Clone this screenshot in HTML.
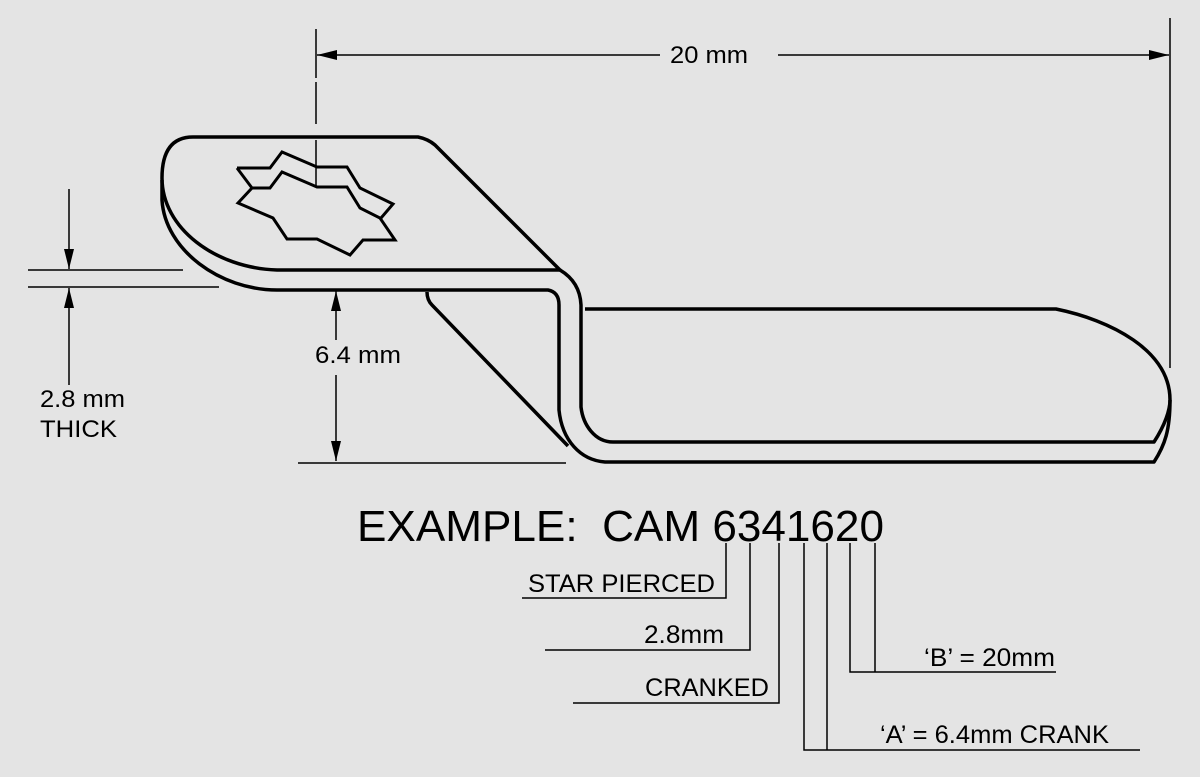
<!DOCTYPE html>
<html><head><meta charset="utf-8"><style>
html,body{margin:0;padding:0;background:#e4e4e4;}
svg{display:block;}
text{font-family:"Liberation Sans",Arial,sans-serif;fill:#000;}
</style></head><body>
<svg width="1200" height="777" viewBox="0 0 1200 777" xmlns="http://www.w3.org/2000/svg">
<rect width="1200" height="777" fill="#e4e4e4"/>
<defs>
<marker id="av" markerWidth="20" markerHeight="10" refX="20" refY="5" orient="auto" markerUnits="userSpaceOnUse"><path d="M0,0 L20,5 L0,10 Z" fill="#000"/></marker></defs>

<g stroke="#000" stroke-width="1.5" fill="none">
<line x1="316" y1="29" x2="316" y2="78"/>
<line x1="316" y1="82" x2="316" y2="124"/>
<line x1="316" y1="140" x2="316" y2="212"/>
<line x1="1170" y1="18" x2="1170" y2="368"/>
<line x1="660" y1="55" x2="317" y2="55" marker-end="url(#av)"/>
<line x1="778" y1="55" x2="1169" y2="55" marker-end="url(#av)"/>
<line x1="28" y1="270" x2="183" y2="270"/>
<line x1="28" y1="287" x2="219" y2="287"/>
<line x1="69" y1="189" x2="69" y2="269" marker-end="url(#av)"/>
<line x1="69" y1="385" x2="69" y2="288" marker-end="url(#av)"/>
<line x1="336" y1="340" x2="336" y2="291" marker-end="url(#av)"/>
<line x1="336" y1="375" x2="336" y2="461" marker-end="url(#av)"/>
<line x1="298" y1="463" x2="566" y2="463"/>
</g>
<g font-size="24">
<text x="670" y="63" textLength="78" lengthAdjust="spacingAndGlyphs">20 mm</text>
<text x="40" y="407" textLength="85" lengthAdjust="spacingAndGlyphs">2.8 mm</text>
<text x="40" y="437" textLength="77" lengthAdjust="spacingAndGlyphs">THICK</text>
<text x="315" y="363" textLength="86" lengthAdjust="spacingAndGlyphs">6.4 mm</text>
</g>

<g stroke="#000" stroke-width="3.5" fill="none" stroke-linejoin="round">
<path d="M193,137 L418,137 Q428,139 435,145 L560,270 L277,270 C215,268 162,228 162,178 Q162,137 193,137 Z"/>
<path d="M162,180 L162,200 C165,250 220,290 277,290 L548,290 Q559,292 559,305 L559,410 C562,440 580,460 605,462 L1154,462 C1165,445 1170,430 1170,400"/>
<path d="M560,270 Q580,282 581,305 L581,407 C583,425 595,442 613,442 L1154,442 C1165,425 1170,410 1170,400 C1170,350 1110,320 1056,309 L585,309"/>
<path d="M427,292 Q427,300 432,305 L568,446"/>
</g>
<g stroke="#000" stroke-width="3" fill="none" stroke-linejoin="miter">
<polyline points="237,168 270,168 282,152 317,167 347,167 360,188 393,204 381,218"/>
<polygon fill="#e4e4e4" points="238,203 252,188 270,188 282,172 317,187 347,187 360,208 380,218 395,240 363,240 350,255 317,239 287,239 273,218"/>
<polyline points="237,168 252,188"/>
</g>

<text x="357" y="541" font-size="44" textLength="527" lengthAdjust="spacingAndGlyphs" xml:space="preserve">EXAMPLE:  CAM 6341620</text>
<g stroke="#000" stroke-width="1.5" fill="none">
<polyline points="522,598 726,598 726,543"/>
<polyline points="545,650 750,650 750,543"/>
<polyline points="573,703 779,703 779,543"/>
<polyline points="1140,750 804,750 804,543"/>
<line x1="827" y1="543" x2="827" y2="750"/>
<polyline points="1056,672 850,672 850,543"/>
<line x1="875" y1="543" x2="875" y2="672"/>
</g>
<g font-size="25">
<text x="528" y="592" textLength="187" lengthAdjust="spacingAndGlyphs">STAR PIERCED</text>
<text x="644" y="643" textLength="80" lengthAdjust="spacingAndGlyphs">2.8mm</text>
<text x="645" y="696" textLength="124" lengthAdjust="spacingAndGlyphs">CRANKED</text>
<text x="924" y="666" textLength="131" lengthAdjust="spacingAndGlyphs">‘B’ = 20mm</text>
<text x="880" y="743" textLength="229" lengthAdjust="spacingAndGlyphs">‘A’ = 6.4mm CRANK</text>
</g>
</svg>
</body></html>
